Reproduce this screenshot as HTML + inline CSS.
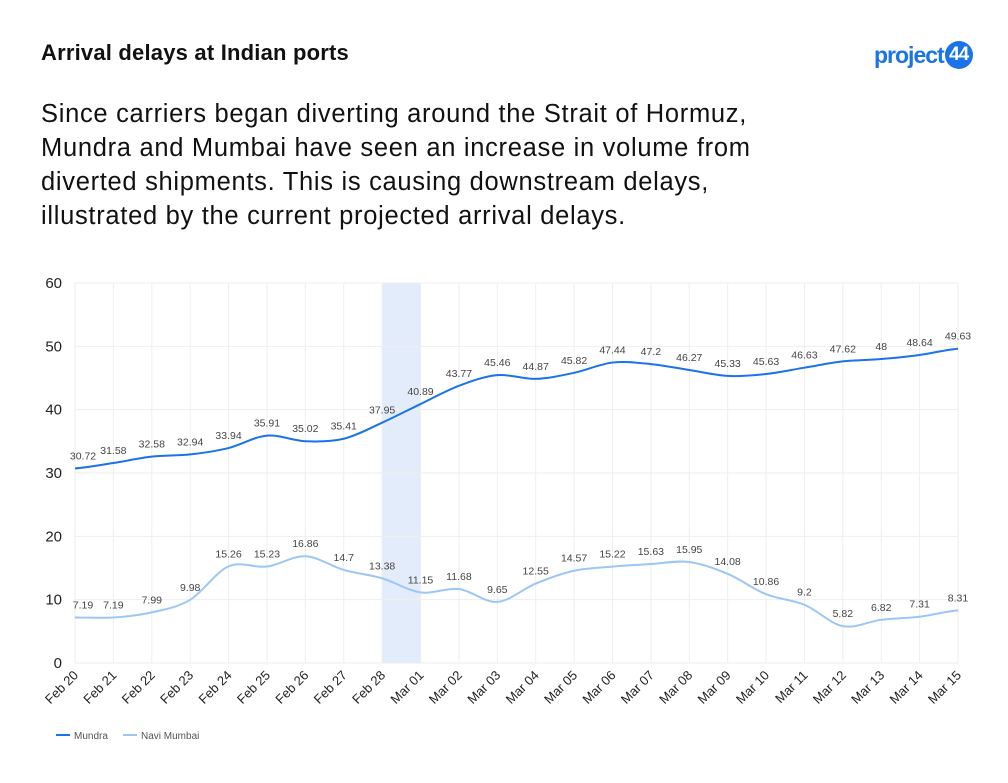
<!DOCTYPE html>
<html><head><meta charset="utf-8"><style>
body{margin:0;background:#fff;width:1008px;height:783px;overflow:hidden;font-family:"Liberation Sans",sans-serif}
.t{position:absolute;left:41px;top:40px;font-size:22px;font-weight:bold;color:#111;letter-spacing:0.2px}
.s{position:absolute;left:41px;top:97px;font-size:25.5px;line-height:34px;color:#111;width:770px;letter-spacing:0.7px}
.logo{position:absolute;left:874px;top:42px;font-size:23px;font-weight:bold;color:#1a73e8;letter-spacing:-1px}
.logo span{display:inline-block;background:#1a73e8;color:#fff;border-radius:50%;width:28px;height:28px;line-height:28px;text-align:center;font-size:19px;vertical-align:middle;margin-top:-4px;margin-left:1px}
</style></head><body>
<div class="t">Arrival delays at Indian ports</div>
<div class="s">Since carriers began diverting around the Strait of Hormuz, Mundra and Mumbai have seen an increase in volume from diverted shipments. This is causing downstream delays, illustrated by the current projected arrival delays.</div>
<div class="logo">project<span>44</span></div>
<svg id="c" width="1008" height="783" style="position:absolute;left:0;top:0"></svg>
<script>
const L=["Feb 20","Feb 21","Feb 22","Feb 23","Feb 24","Feb 25","Feb 26","Feb 27","Feb 28","Mar 01","Mar 02","Mar 03","Mar 04","Mar 05","Mar 06","Mar 07","Mar 08","Mar 09","Mar 10","Mar 11","Mar 12","Mar 13","Mar 14","Mar 15"];
const A=[30.72,31.58,32.58,32.94,33.94,35.91,35.02,35.41,37.95,40.89,43.77,45.46,44.87,45.82,47.44,47.2,46.27,45.33,45.63,46.63,47.62,48,48.64,49.63];
const B=[7.19,7.19,7.99,9.98,15.26,15.23,16.86,14.7,13.38,11.15,11.68,9.65,12.55,14.57,15.22,15.63,15.95,14.08,10.86,9.2,5.82,6.82,7.31,8.31];
const x0=75,dx=(958-75)/23,X=i=>x0+i*dx,Y=v=>663-v*6.333;
let s='<rect x="'+X(8)+'" y="283" width="'+dx+'" height="380" fill="#e3ecfb"/>';
for(let k=0;k<=6;k++){s+=`<line x1="75" x2="958" y1="${Y(k*10)}" y2="${Y(k*10)}" stroke="#eee"/><text x="62" y="${Y(k*10)+5}" text-anchor="end" font-size="15" fill="#222">${k*10}</text>`;}
for(let i=0;i<24;i++){s+=`<line x1="${X(i)}" x2="${X(i)}" y1="283" y2="663" stroke="#eee"/><text transform="translate(${X(i)+4},${676}) rotate(-45)" text-anchor="end" font-size="13" fill="#222">${L[i]}</text>`;}
function path(d){let p=`M${X(0)},${Y(d[0])}`;for(let i=0;i<23;i++){const p0=d[Math.max(i-1,0)],p1=d[i],p2=d[i+1],p3=d[Math.min(i+2,23)];p+=` C${X(i)+dx/3},${Y(p1+(p2-p0)/6)} ${X(i+1)-dx/3},${Y(p2-(p3-p1)/6)} ${X(i+1)},${Y(p2)}`;}return p;}
s+=`<path d="${path(A)}" fill="none" stroke="#1a73e8" stroke-width="2"/><path d="${path(B)}" fill="none" stroke="#9cc6f5" stroke-width="2"/>`;
for(let i=0;i<24;i++){s+=`<text x="${X(i)+(i==0?8:0)}" y="${Y(A[i])-9}" text-anchor="middle" font-size="10.5" fill="#444">${A[i]}</text><text x="${X(i)+(i==0?8:0)}" y="${Y(B[i])-9}" text-anchor="middle" font-size="10.5" fill="#444">${B[i]}</text>`;}
s+=`<line x1="56" x2="70" y1="735" y2="735" stroke="#1a73e8" stroke-width="2"/><text x="74" y="739" font-size="10" fill="#555">Mundra</text><line x1="123" x2="137" y1="735" y2="735" stroke="#9cc6f5" stroke-width="2"/><text x="141" y="739" font-size="10" fill="#555">Navi Mumbai</text>`;
document.getElementById('c').innerHTML=s;
</script>
</body></html>
